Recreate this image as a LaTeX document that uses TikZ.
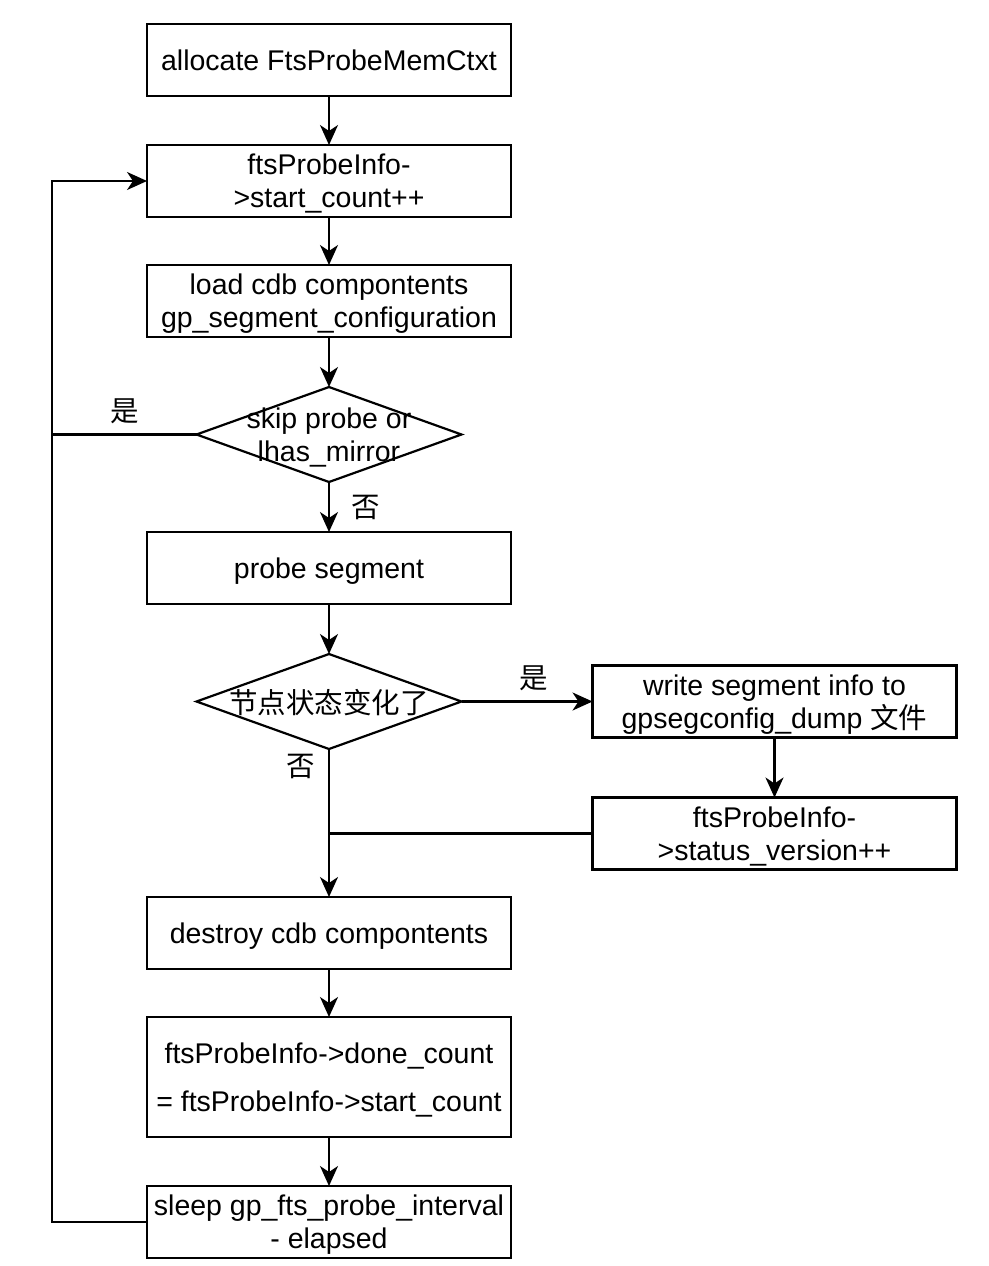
\documentclass[tikz,border=0pt]{standalone}
\usepackage{fontspec}
\setmainfont{Liberation Sans}
\newfontfamily\cjk{Noto Sans CJK SC}
\usetikzlibrary{positioning, arrows.meta, shapes.geometric}

\begin{document}
\begin{tikzpicture}[x=1pt, y=1pt, node distance=49pt,
        font=\fontsize{28.5}{33}\selectfont,
        box/.style={draw, line width=2.2pt, minimum width=364pt, minimum height=72pt, inner sep=2pt, outer sep=0pt, text depth=0pt, align=center},
        decision/.style={draw, diamond, line width=2.2pt, minimum width=265pt, minimum height=95pt, inner sep=0pt, outer sep=0pt},
        dtext/.style={align=center, inner sep=0pt, text depth=0pt},
        flow/.style={line width=2.2pt, -{Stealth[length=20pt, width=18pt, inset=6pt]}},
        link/.style={line width=2.2pt}]
            \useasboundingbox (0,0) rectangle (988,-1266);

            \node [box] (alloc) at (329,-60) {allocate FtsProbeMemCtxt};
            \node [box, below=of alloc] (start) {ftsProbeInfo-\\>start\_count++};
            \node [box, below=48pt of start] (load) {load cdb compontents\\gp\_segment\_configuration};
            \node [decision, below=50pt of load, label={[dtext]center:skip probe or\\lhas\_mirror}] (skip) {};
            \node [box, below=50pt of skip] (probe) {probe segment};
            \node [decision, below=50pt of probe, label={[dtext]center:{\cjk 节点状态变化了}}] (changed) {};
            \node [box, right=131pt of changed] (write) {write segment info to\\gpsegconfig\_dump {\cjk 文件}};
            \node [box, below=60pt of write] (status) {ftsProbeInfo-\\>status\_version++};
            \node [box, below=148pt of changed] (destroy) {destroy cdb compontents};
            \node [box, below=48pt of destroy, minimum height=120pt] (done) {ftsProbeInfo->done\_count\\[15pt]= ftsProbeInfo->start\_count};
            \node [box, below=of done] (sleep) {sleep gp\_fts\_probe\_interval\\- elapsed};

            % loop back on the left
            \coordinate (back) at ([xshift=-95pt]sleep.west);

            \draw [flow] (alloc) -- (start);
            \draw [flow] (start) -- (load);
            \draw [flow] (load) -- (skip);
            \draw [flow] (skip) -- node [right=18pt] {\cjk 否} (probe);
            \draw [link] (skip.west) -- node [above=6pt] {\cjk 是} (skip.west -| back);
            \draw [flow] (probe) -- (changed);
            \draw [flow] (changed) -- node [above=6pt, xshift=7pt] {\cjk 是} (write);
            \draw [flow] (write) -- (status);
            \draw [link] (status.west) -- (status.west -| changed.south);
            \draw [flow] (changed) -- node [pos=0.12, left=10pt] {\cjk 否} (destroy);
            \draw [flow] (destroy) -- (done);
            \draw [flow] (done) -- (sleep);
            \draw [flow] (sleep.west) -- (back) |- (start.west);

        \end{tikzpicture}
\end{document}
